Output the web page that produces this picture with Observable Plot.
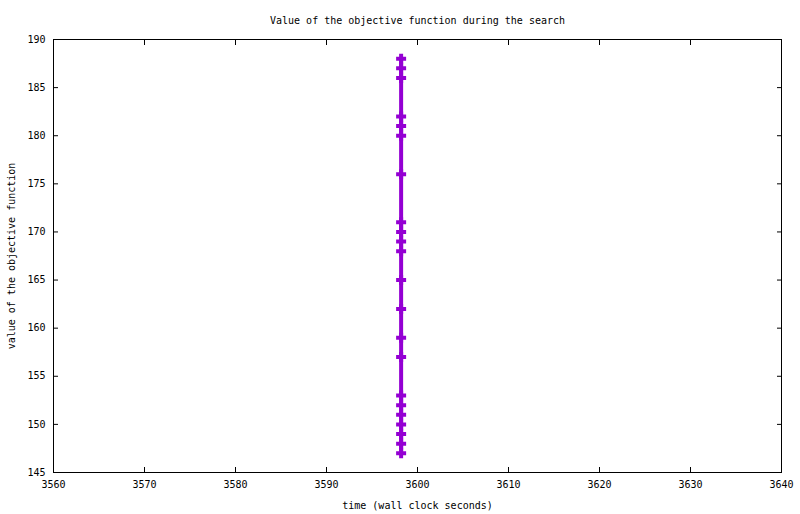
<!DOCTYPE html>
<html>
<head>
<meta charset="utf-8">
<script src="https://cdn.jsdelivr.net/npm/d3@7"></script>
<script src="https://cdn.jsdelivr.net/npm/@observablehq/plot@0.6"></script>
<style>
  body { margin: 0; background: #fff; }
</style>
</head>
<body>
<div id="chart"></div>
<script>
// objective values recorded during the search (all at the same wall clock second)
const times = [3598.2, 3598.2, 3598.2, 3598.2, 3598.2, 3598.2, 3598.2, 3598.2, 3598.2, 3598.2, 3598.2,
               3598.2, 3598.2, 3598.2, 3598.2, 3598.2, 3598.2, 3598.2, 3598.2, 3598.2, 3598.2, 3598.2];
const values = [188, 187, 186, 182, 181, 180, 176, 171, 170, 169, 168,
                165, 162, 159, 157, 153, 152, 151, 150, 149, 148, 147];
const xTicks = [3560, 3570, 3580, 3590, 3600, 3610, 3620, 3630, 3640];
const yTicks = [145, 150, 155, 160, 165, 170, 175, 180, 185, 190];

const points = values.map((v, i) => ({t: times[i], v}));

// gnuplot-like "+" point
const plusMark = {
  draw(context, size) {
    const r = Math.sqrt(size / Math.PI);
    context.moveTo(-r, 0); context.lineTo(r, 0);
    context.moveTo(0, -r); context.lineTo(0, r);
  }
};

const purple = "#9400d3";
const noLabel = () => "";

const chart = Plot.plot({
  width: 800, height: 514,
  marginLeft: 53, marginRight: 19, marginTop: 39, marginBottom: 42,
  style: {fontFamily: "'DejaVu Sans Mono', monospace", fontSize: "10px", color: "black", background: "white"},
  x: {domain: [3560, 3640]},
  y: {domain: [145, 190]},
  marks: [
    Plot.axisX(xTicks, {anchor: "bottom", tickSize: -5, tickPadding: 13.5, tickFormat: "d", label: null}),
    Plot.axisX(xTicks, {anchor: "top", tickSize: -5, tickFormat: noLabel, label: null}),
    Plot.axisY(yTicks, {anchor: "left", tickSize: -5, tickPadding: 13, tickFormat: "d", label: null}),
    Plot.axisY(yTicks, {anchor: "right", tickSize: -5, tickFormat: noLabel, label: null}),
    Plot.frame({stroke: "black"}),
    Plot.line(points, {x: "t", y: "v", stroke: purple, strokeWidth: 4}),
    Plot.dot(points, {x: "t", y: "v", symbol: plusMark, r: 5, stroke: purple, strokeWidth: 4, fill: "none"}),
    Plot.text(["Value of the objective function during the search"],
      {frameAnchor: "top", textAnchor: "middle", lineAnchor: "middle", dy: -19, fill: "black"}),
    Plot.text(["time (wall clock seconds)"],
      {frameAnchor: "bottom", textAnchor: "middle", lineAnchor: "middle", dy: 33, fill: "black"}),
    Plot.text(["value of the objective function"],
      {frameAnchor: "left", textAnchor: "middle", lineAnchor: "middle", dx: -42, rotate: -90, fill: "black"})
  ]
});
document.getElementById("chart").appendChild(chart);
</script>
</body>
</html>
